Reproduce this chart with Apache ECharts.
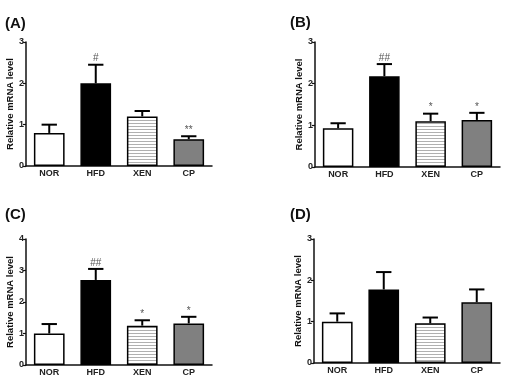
<!DOCTYPE html>
<html>
<head>
<meta charset="utf-8">
<script src="https://cdn.jsdelivr.net/npm/echarts@6/dist/echarts.min.js"></script>
<style>
  html, body { margin: 0; padding: 0; background: #fff; }
  #chart { width: 507px; height: 379px; }
</style>
</head>
<body>
<div id="chart"></div>
<script>
const categories = ["NOR", "HFD", "XEN", "CP"];
const panelTitles = ["(A)", "(B)", "(C)", "(D)"];
const yMax = [3, 3, 4, 3];

// mean values and upper error (mean + SEM) per panel
const meanA = [0.8, 2.0, 1.2, 0.65];
const errA = [1.0, 2.45, 1.33, 0.72];
const sigA = ["", "#", "", "**"];

const meanB = [0.93, 2.18, 1.1, 1.13];
const errB = [1.05, 2.47, 1.28, 1.3];
const sigB = ["", "##", "*", "*"];

const meanC = [1.0, 2.7, 1.25, 1.32];
const errC = [1.3, 3.05, 1.42, 1.53];
const sigC = ["", "##", "*", "*"];

const meanD = [1.0, 1.78, 0.96, 1.47];
const errD = [1.2, 2.2, 1.1, 1.78];
const sigD = ["", "", "", ""];

const means = [meanA, meanB, meanC, meanD];
const errs = [errA, errB, errC, errD];
const sigs = [sigA, sigB, sigC, sigD];

// horizontal stripe pattern for XEN
const stripe = document.createElement("canvas");
stripe.width = 4;
stripe.height = 3;
const ctx = stripe.getContext("2d");
ctx.fillStyle = "#fff";
ctx.fillRect(0, 0, 4, 3);
ctx.fillStyle = "#b0b0b0";
ctx.fillRect(0, 0, 4, 1);

const barColors = ["#fff", "#000", { image: stripe, repeat: "repeat" }, "#808080"];

const grids = [
  { left: 26, top: 42, width: 186, height: 124 },
  { left: 315, top: 42, width: 185, height: 125 },
  { left: 26, top: 239, width: 186, height: 126 },
  { left: 314, top: 239, width: 186, height: 124 },
];
const titlePos = [
  { left: 0, top: 11 },
  { left: 285, top: 10 },
  { left: 0, top: 202 },
  { left: 285, top: 202 },
];

const font = "Liberation Sans, Arial, sans-serif";
const myChart = echarts.init(document.getElementById("chart"));

const option = {
  animation: false,
  backgroundColor: "#fff",
  textStyle: { fontFamily: font },
  title: panelTitles.map((t, i) => ({
    text: t,
    left: titlePos[i].left,
    top: titlePos[i].top,
    textStyle: { fontSize: 15, fontWeight: "bold", color: "#111", fontFamily: font },
  })),
  grid: grids,
  xAxis: grids.map((g, i) => ({
    type: "category",
    gridIndex: i,
    data: categories,
    axisLine: { lineStyle: { color: "#111", width: 1.5 } },
    axisTick: { show: false },
    axisLabel: { fontSize: 9, fontWeight: "bold", color: "#222", margin: 3 },
  })),
  yAxis: grids.map((g, i) => ({
    type: "value",
    gridIndex: i,
    min: 0,
    max: yMax[i],
    interval: 1,
    name: "Relative mRNA level",
    nameLocation: "middle",
    nameGap: 11,
    nameTextStyle: { fontSize: 9.5, fontWeight: "bold", color: "#111" },
    axisLine: { show: true, lineStyle: { color: "#111", width: 1.5 } },
    axisTick: { show: true, length: 3, lineStyle: { color: "#111", width: 1.2 } },
    axisLabel: { fontSize: 9, fontWeight: "bold", color: "#222", margin: 2 },
    splitLine: { show: false },
  })),
  series: [],
};

means.forEach((m, i) => {
  option.series.push({
    type: "bar",
    xAxisIndex: i,
    yAxisIndex: i,
    barWidth: "66%",
    data: m.map((v, j) => ({
      value: v,
      itemStyle: { color: barColors[j], borderColor: "#000", borderWidth: 1.5 },
    })),
  });
  option.series.push({
    type: "custom",
    xAxisIndex: i,
    yAxisIndex: i,
    z: 3,
    data: m.map((v, j) => [j, v, errs[i][j]]),
    renderItem: (params, api) => {
      const j = api.value(0);
      const base = api.coord([j, api.value(1)]);
      const top = api.coord([j, api.value(2)]);
      const half = (api.size([1, 0])[0] * 0.66) / 4;
      const children = [
        {
          type: "line",
          shape: { x1: base[0], y1: base[1], x2: top[0], y2: top[1] },
          style: { stroke: "#000", lineWidth: 2 },
        },
        {
          type: "line",
          shape: { x1: top[0] - half, y1: top[1], x2: top[0] + half, y2: top[1] },
          style: { stroke: "#000", lineWidth: 2 },
        },
      ];
      const s = sigs[i][j];
      if (s) {
        children.push({
          type: "text",
          x: top[0],
          y: top[1] - 1,
          style: {
            text: s,
            fill: "#555",
            fontSize: 10,
            fontFamily: font,
            align: "center",
            verticalAlign: "bottom",
          },
        });
      }
      return { type: "group", children: children };
    },
  });
});

myChart.setOption(option);
</script>
</body>
</html>
